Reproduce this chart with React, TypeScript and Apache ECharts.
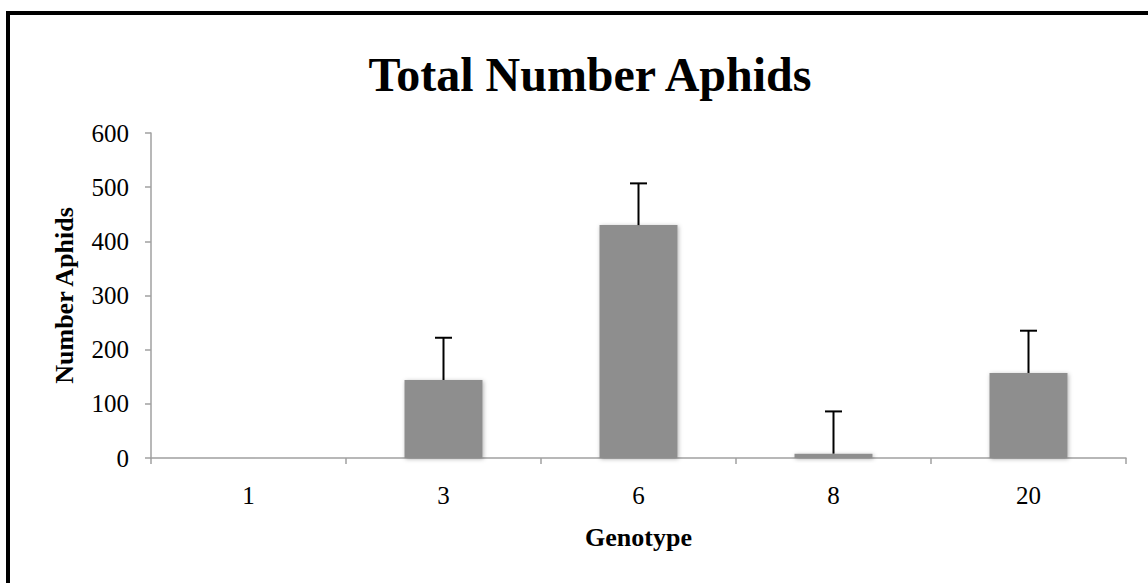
import React, { useEffect, useRef } from "react";
import * as echarts from "echarts";

const categories = ["1", "3", "6", "8", "20"];
const values = [0, 144, 430, 8, 157];
const errors = [0, 78, 77, 78, 78];
const yTicks = { min: 0, max: 600, interval: 100 };

const FONT = "'Liberation Serif', 'Times New Roman', serif";

export default function App() {
  const ref = useRef<HTMLDivElement>(null);
  useEffect(() => {
    if (!ref.current) return;
    const chart = echarts.init(ref.current, undefined, { renderer: "svg" });
    const errData = values.map((v, i) => [i, v, errors[i]]);
    chart.setOption({
      animation: false,
      backgroundColor: "#ffffff",
      title: {
        text: "Total Number Aphids",
        left: 585,
        textAlign: "center",
        top: 45,
        textStyle: { fontFamily: FONT, fontSize: 48, fontWeight: "bold", color: "#000" },
      },
      graphic: [
        {
          type: "rect",
          shape: { x: 8, y: 13, width: 1300, height: 800 },
          style: { fill: "none", stroke: "#000", lineWidth: 4 },
          silent: true,
        },
      ],
      grid: { left: 151, right: 22, top: 133, bottom: 125, containLabel: false },
      xAxis: {
        type: "category",
        data: categories,
        name: "Genotype",
        nameLocation: "middle",
        nameGap: 66,
        nameTextStyle: { fontFamily: FONT, fontSize: 26, fontWeight: "bold", color: "#000" },
        axisLine: { lineStyle: { color: "#a0a0a0", width: 1.5 } },
        axisTick: { show: true, alignWithLabel: false, length: 6, lineStyle: { color: "#a0a0a0", width: 1.5 } },
        axisLabel: { fontFamily: FONT, fontSize: 25, color: "#000", margin: 25 },
      },
      yAxis: {
        type: "value",
        min: yTicks.min,
        max: yTicks.max,
        interval: yTicks.interval,
        name: "Number Aphids",
        nameLocation: "middle",
        nameGap: 74,
        nameTextStyle: { fontFamily: FONT, fontSize: 26, fontWeight: "bold", color: "#000" },
        axisLine: { show: true, lineStyle: { color: "#a0a0a0", width: 1.5 } },
        axisTick: { show: true, length: 6, lineStyle: { color: "#a0a0a0", width: 1.5 } },
        splitLine: { show: false },
        axisLabel: { fontFamily: FONT, fontSize: 25, color: "#000", margin: 22 },
      },
      series: [
        {
          type: "bar",
          data: values,
          barWidth: "40%",
          itemStyle: {
            color: "#8e8e8e",
            shadowBlur: 4,
            shadowColor: "rgba(0,0,0,0.3)",
            shadowOffsetX: 1,
            shadowOffsetY: 1,
          },
        },
        {
          type: "custom",
          data: errData,
          z: 10,
          renderItem: (params: any, api: any) => {
            const i = api.value(0);
            const v = api.value(1);
            const e = api.value(2);
            if (!e) return null;
            const base = api.coord([i, v]);
            const top = api.coord([i, v + e]);
            const half = 8.5;
            const style = { stroke: "#000", lineWidth: 2 };
            return {
              type: "group",
              children: [
                { type: "line", shape: { x1: base[0], y1: base[1], x2: top[0], y2: top[1] }, style },
                { type: "line", shape: { x1: top[0] - half, y1: top[1], x2: top[0] + half, y2: top[1] }, style },
              ],
            };
          },
        },
      ],
    });
    return () => chart.dispose();
  }, []);
  return (
    <div
      ref={ref}
      style={{ position: "fixed", left: 0, top: 0, width: 1148, height: 583 }}
    />
  );
}
